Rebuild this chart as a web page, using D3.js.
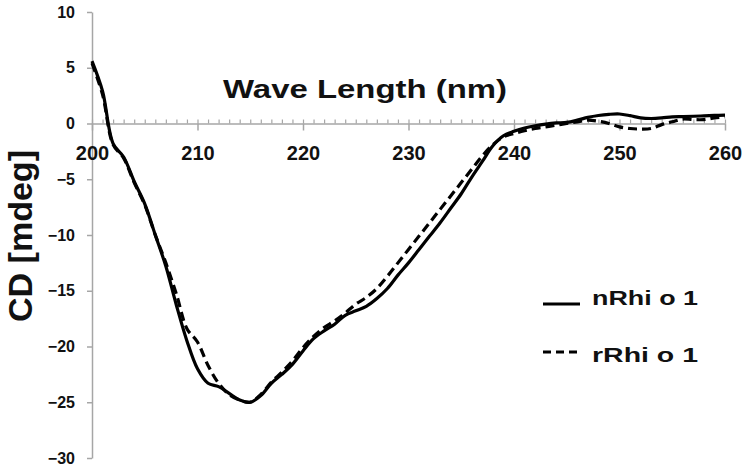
<!DOCTYPE html>
<html>
<head>
<meta charset="utf-8">
<script src="https://cdn.jsdelivr.net/npm/d3@7"></script>
<style>
  html, body { margin: 0; padding: 0; background: #fff; }
  svg { display: block; }
  text { font-family: "Liberation Sans", Arial, sans-serif; font-weight: bold; fill: #111; }
</style>
</head>
<body>
<svg id="chart" width="744" height="470"></svg>
<script>
// ---- data ----
const wavelengths = d3.range(200, 261, 1);
const nRhi = [5.6, 2.9, -1.8, -3.0, -5.2, -7.2, -10.0, -12.8, -16.3, -19.5,
  -22.0, -23.3, -23.6, -24.2, -24.8, -25.0, -24.4, -23.3, -22.5, -21.6,
  -20.4, -19.3, -18.6, -18.0, -17.2, -16.8, -16.4, -15.7, -14.8, -13.6,
  -12.5, -11.3, -10.1, -8.9, -7.6, -6.3, -4.8, -3.4, -2.0, -1.1,
  -0.7, -0.4, -0.2, -0.05, 0.05, 0.1, 0.3, 0.55, 0.72, 0.82,
  0.85, 0.7, 0.5, 0.45, 0.5, 0.6, 0.62, 0.65, 0.68, 0.72, 0.75];
const rRhi = [5.4, 2.6, -1.9, -3.1, -5.3, -7.3, -10.0, -12.5, -15.3, -18.4,
  -19.6, -21.7, -23.3, -24.3, -24.8, -25.0, -24.3, -23.2, -22.3, -21.3,
  -20.1, -19.1, -18.3, -17.7, -17.0, -16.2, -15.6, -14.8, -13.7, -12.5,
  -11.3, -10.1, -8.9, -7.7, -6.5, -5.3, -4.1, -2.9, -1.9, -1.2,
  -0.9, -0.65, -0.45, -0.3, -0.15, 0.0, 0.15, 0.3, 0.2, 0.0,
  -0.3, -0.45, -0.5, -0.45, -0.1, 0.15, 0.4, 0.35, 0.35, 0.5, 0.6];
const seriesNames = ["nRhi o 1", "rRhi o 1"];
const yTicks = [-30, -25, -20, -15, -10, -5, 0, 5, 10];
const xTicks = [200, 210, 220, 230, 240, 250, 260];
const xTitle = "Wave Length (nm)";
const yTitle = "CD [mdeg]";

// ---- layout ----
const svg = d3.select("#chart");
const x = d3.scaleLinear().domain([200, 260]).range([92, 725]);
const y = d3.scaleLinear().domain([-30, 10]).range([458, 12]);
const axisColor = "#a6a6a6";

// y axis
const gy = svg.append("g").attr("transform", `translate(${x(200)},0)`)
  .call(d3.axisLeft(y).tickValues(yTicks).tickSize(5).tickSizeOuter(0).tickPadding(12));
gy.select(".domain").attr("stroke", axisColor).attr("stroke-width", 1.5);
gy.selectAll(".tick line").attr("stroke", axisColor).attr("stroke-width", 1.5);
gy.selectAll(".tick text").style("font-size", "16px").attr("fill", "#111")
  .style("font-family", "'Liberation Sans', Arial, sans-serif").style("font-weight", "bold");

// x axis at y=0: minor ticks (upwards)
const gxMinor = svg.append("g").attr("transform", `translate(0,${y(0)})`)
  .call(d3.axisTop(x).tickValues(wavelengths).tickSize(4).tickSizeOuter(0).tickFormat(""));
gxMinor.select(".domain").attr("stroke", axisColor).attr("stroke-width", 1.5);
gxMinor.selectAll(".tick line").attr("stroke", axisColor).attr("stroke-width", 1.2);

// x axis major ticks + labels
const gx = svg.append("g").attr("transform", `translate(0,${y(0)})`)
  .call(d3.axisBottom(x).tickValues(xTicks).tickSize(7).tickSizeOuter(0).tickPadding(15));
gx.select(".domain").remove();
gx.selectAll(".tick line").attr("stroke", axisColor).attr("stroke-width", 1.5);
gx.selectAll(".tick text").style("font-size", "20px").attr("fill", "#111")
  .style("font-family", "'Liberation Sans', Arial, sans-serif").style("font-weight", "bold");

// titles
svg.append("text").attr("x", 223).attr("y", 98)
  .attr("textLength", 284).attr("lengthAdjust", "spacingAndGlyphs")
  .style("font-size", "26px").text(xTitle);
svg.append("text")
  .attr("transform", "translate(32,322) rotate(-90)")
  .attr("textLength", 172).attr("lengthAdjust", "spacingAndGlyphs")
  .style("font-size", "34px").text(yTitle);

// lines
const line = d3.line().x((d, i) => x(wavelengths[i])).y(d => y(d)).curve(d3.curveCatmullRom);
svg.append("path").datum(nRhi).attr("d", line)
  .attr("fill", "none").attr("stroke", "#000").attr("stroke-width", 3.2).attr("stroke-linejoin", "round");
svg.append("path").datum(rRhi).attr("d", line)
  .attr("fill", "none").attr("stroke", "#000").attr("stroke-width", 3.2)
  .attr("stroke-dasharray", "9,5");

// legend
const legY = [304, 352];
const legBase = [305, 362];
seriesNames.forEach((name, i) => {
  svg.append("line").attr("x1", 543).attr("x2", 580).attr("y1", legY[i]).attr("y2", legY[i])
    .attr("stroke", "#000").attr("stroke-width", 3)
    .attr("stroke-dasharray", i === 1 ? "8,5" : null);
  svg.append("text").attr("x", 592).attr("y", legBase[i])
    .attr("textLength", 106).attr("lengthAdjust", "spacingAndGlyphs")
    .style("font-size", "21px").text(name);
});
</script>
</body>
</html>
